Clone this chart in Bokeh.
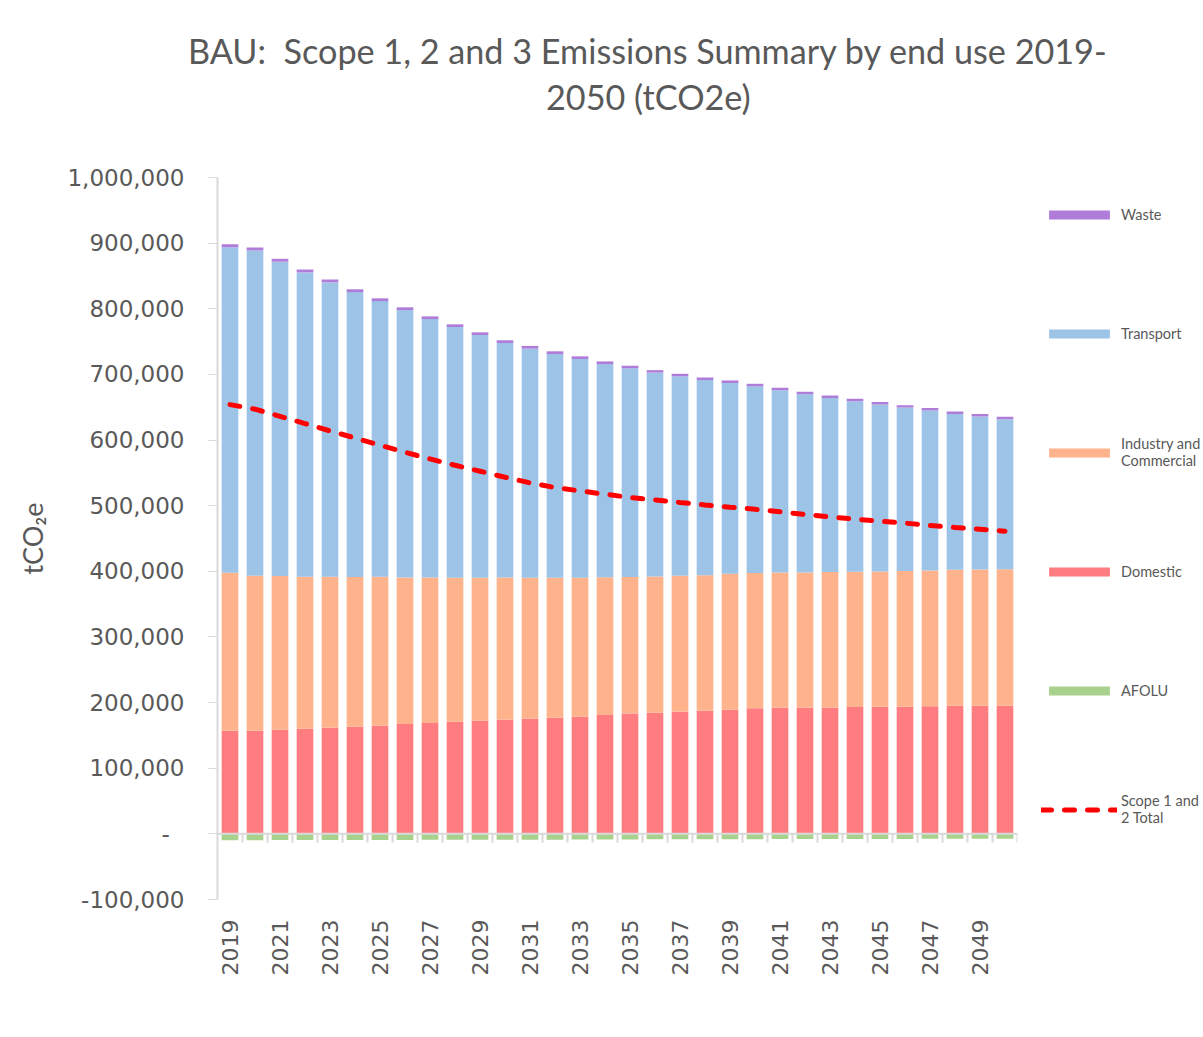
from bokeh.plotting import figure
from bokeh.models import (Range1d, FixedTicker, CustomJSTickFormatter, Span, Legend,
                          LegendItem, ColumnDataSource, Div)
from bokeh.layouts import column
from bokeh.embed import file_html
from bokeh.resources import INLINE
from math import pi

# ---------------- data (tCO2e) ----------------
years = list(range(2019, 2051))
domestic = [157000, 157000, 158800, 160300, 161800, 163300, 164800, 167400, 168900, 170900,
            172500, 174000, 175500, 177000, 178600, 181000, 183200, 184700, 186200, 187700,
            189200, 191300, 192300, 192300, 192300, 193300, 193800, 193800, 194300, 195300,
            195300, 195300]
industry = [240700, 236200, 233900, 231400, 229900, 227900, 226900, 223300, 221800, 219300,
            217700, 216700, 214700, 213200, 211600, 210000, 208000, 207500, 207000, 206500,
            207000, 206000, 206000, 206000, 206500, 206000, 206000, 206500, 207000, 207000,
            207500, 208000]
transport = [496200, 495700, 479000, 463700, 448500, 434200, 420000, 407300, 393600, 382000,
             369800, 357100, 349000, 340900, 333300, 324800, 318100, 310500, 303900, 297300,
             290700, 284600, 277500, 271400, 265200, 259700, 254200, 249100, 243600, 237400,
             232900, 228400]
waste = [4300, 4400, 4400, 4400, 4400, 4300, 4200, 4200, 4100, 4100,
         4100, 4200, 4200, 4100, 4000, 4000, 3900, 3800, 3800, 3800,
         3900, 3800, 3800, 3800, 3900, 3800, 3800, 3800, 3800, 3800,
         3800, 3900]
afolu = [-9600, -9600, -9500, -9500, -9400, -9400, -9300, -9200, -9100, -9000,
         -9000, -8900, -8800, -8800, -8700, -8400, -8400, -8300, -8300, -8200,
         -8100, -8100, -8000, -8000, -8000, -7900, -7700, -7700, -7600, -7600,
         -7600, -7600]
scope12 = [654000, 647000, 636200, 625100, 613900, 603200, 592100, 581400, 571200, 561600,
           552500, 543400, 534700, 527700, 522500, 517500, 512500, 508900, 504800, 501200,
           497700, 494700, 490600, 486600, 483000, 479500, 476400, 473400, 469800, 466800,
           464200, 461200]
label_years = years[::2]
y_ticks = list(range(-100000, 1000001, 100000))

title_line1 = "BAU:&nbsp; Scope 1, 2 and 3 Emissions Summary by end use 2019-"
title_line2 = "2050 (tCO2e)"

series_names = ["domestic", "industry", "transport", "waste"]
series_colors = ["#FF7C80", "#FFB38C", "#9DC3E6", "#B07CDA"]
afolu_color = "#A9D18E"
line_color = "#FF0000"
text_color = "#595959"
axis_color = "#D9D9D9"

src = ColumnDataSource(dict(year=years, domestic=domestic, industry=industry,
                            transport=transport, waste=waste, afolu=afolu,
                            scope12=scope12,
                            tick_x=[y + 0.5 for y in years],
                            tick_y0=[0] * len(years),
                            tick_y1=[-13700] * len(years)))

title_div = Div(
    text=('<div style="padding-top:23px; text-align:left; font-family:Lato; '
          'font-size:34.2px; line-height:46px; color:%s; white-space:nowrap;">'
          '<div style="padding-left:183px;">%s</div>'
          '<div style="padding-left:541px;">%s</div></div>')
         % (text_color, title_line1, title_line2),
    width=1195, height=120)

p = figure(frame_width=800, frame_height=722,
           min_border_left=217, min_border_top=47, min_border_right=178, min_border_bottom=130,
           x_range=Range1d(2018.5, 2050.5), y_range=Range1d(-100000, 1000000),
           output_backend="svg", toolbar_location=None)

p.outline_line_color = None
p.xgrid.grid_line_color = None
p.ygrid.grid_line_color = None
p.background_fill_color = "white"
p.border_fill_color = "white"

bars = p.vbar_stack(series_names, x="year", width=0.667, color=series_colors,
                    line_color=None, source=src)
afolu_r = p.vbar(x="year", top=0, bottom="afolu", width=0.667, color=afolu_color,
                 line_color=None, source=src)

p.add_layout(Span(location=0, dimension="width", line_color=axis_color, line_width=2))
p.segment(x0="tick_x", x1="tick_x", y0="tick_y0", y1="tick_y1", line_color=axis_color,
          line_width=2, source=src)

line_r = p.line(x="year", y="scope12", line_color=line_color, line_width=5,
                line_dash="10 13", line_cap="round", source=src)

# y axis
ya = p.yaxis[0]
ya.ticker = FixedTicker(ticks=y_ticks)
ya.formatter = CustomJSTickFormatter(code="""
    if (tick == 0) { return "-\\u00a0\\u00a0"; }
    return tick.toLocaleString('en-US');
""")
ya.axis_line_color = axis_color
ya.axis_line_width = 2
ya.major_tick_line_color = axis_color
ya.major_tick_in = 0
ya.major_tick_out = 9
ya.minor_tick_line_color = None
ya.major_label_standoff = 24
ya.major_label_text_font = "DejaVu Sans"
ya.major_label_text_font_size = "23px"
ya.major_label_text_color = text_color
ya.axis_label = "tCO\u2082e"
ya.axis_label_text_font = "Lato"
ya.axis_label_text_font_size = "27px"
ya.axis_label_text_font_style = "normal"
ya.axis_label_text_color = text_color
ya.axis_label_standoff = 15

# x axis (labels only; the axis line is drawn at zero)
xa = p.xaxis[0]
xa.ticker = FixedTicker(ticks=label_years)
xa.axis_line_color = None
xa.major_tick_line_color = None
xa.minor_tick_line_color = None
xa.major_tick_out = 0
xa.major_label_orientation = pi / 2
xa.major_label_standoff = 20
xa.major_label_text_font = "DejaVu Sans"
xa.major_label_text_font_size = "22px"
xa.major_label_text_color = text_color

legend = Legend(items=[
    LegendItem(label="Waste", renderers=[bars[3]]),
    LegendItem(label="Transport", renderers=[bars[2]]),
    LegendItem(label="Industry and\nCommercial", renderers=[bars[1]]),
    LegendItem(label="Domestic", renderers=[bars[0]]),
    LegendItem(label="AFOLU", renderers=[afolu_r]),
    LegendItem(label="Scope 1 and\n2 Total", renderers=[line_r]),
], location=(24, 73), orientation="vertical",
    glyph_width=76, glyph_height=11, label_height=34, spacing=85,
    padding=0, margin=0, border_line_color=None, background_fill_alpha=0,
    label_text_font="Lato", label_text_font_size="14.5px", label_text_color=text_color,
    label_standoff=4)
p.add_layout(legend, "right")

layout = column(title_div, p)
open("out.html", "w").write(file_html(layout, INLINE))
